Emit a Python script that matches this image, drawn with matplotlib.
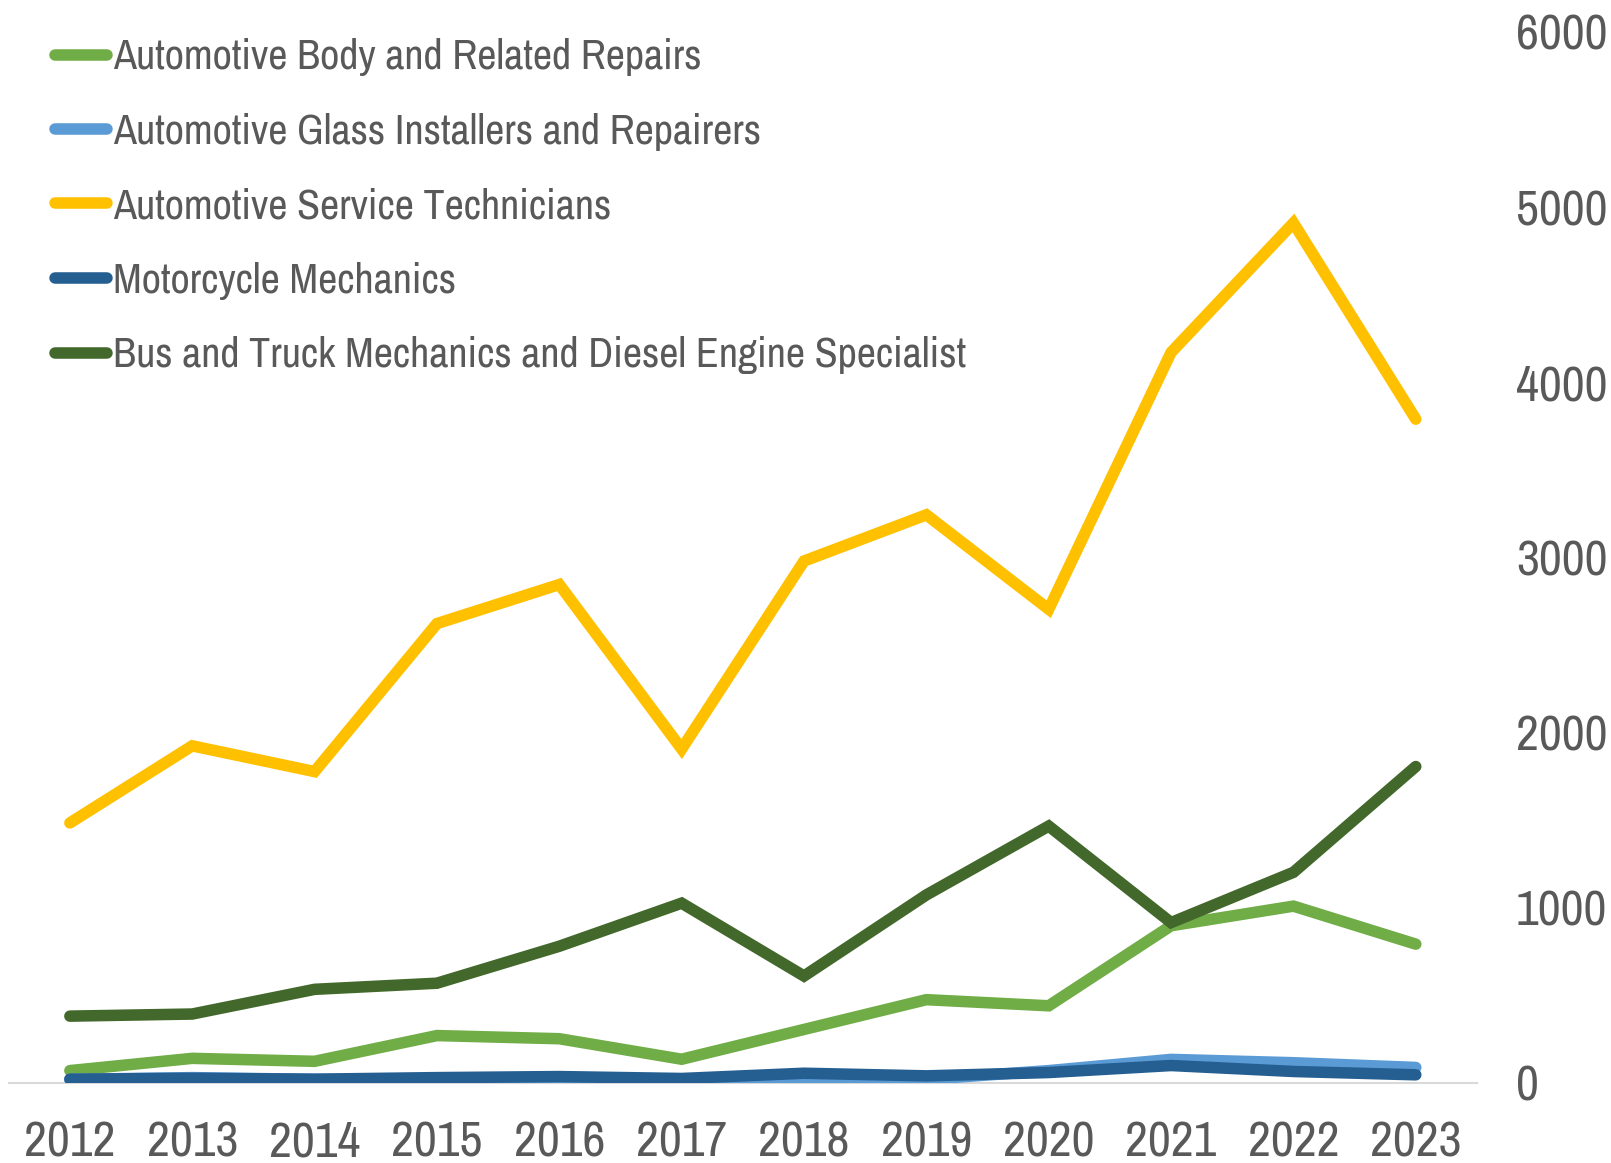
import matplotlib
matplotlib.use("Agg")
import matplotlib.pyplot as plt

plt.rcParams['font.family'] = ['Archivo Narrow', 'DejaVu Sans']

years = ["2012", "2013", "2014", "2015", "2016", "2017", "2018", "2019", "2020", "2021", "2022", "2023"]
body = [70, 140, 123, 270, 252, 135, 305, 475, 440, 897, 1009, 792]
glass = [20, 30, 20, 20, 20, 20, 15, 20, 70, 134, 115, 88]
service = [1484, 1924, 1777, 2622, 2845, 1906, 2979, 3243, 2704, 4170, 4909, 3789]
moto = [21, 26, 21, 30, 36, 25, 55, 40, 59, 99, 65, 46]
bus = [381, 393, 534, 569, 780, 1026, 610, 1073, 1466, 915, 1202, 1806]

labels = ["Automotive Body and Related Repairs",
          "Automotive Glass Installers and Repairers",
          "Automotive Service Technicians",
          "Motorcycle Mechanics",
          "Bus and Truck Mechanics and Diesel Engine Specialist"]
colors = ["#70AD47", "#5B9BD5", "#FFC000", "#255E91", "#43682B"]
values = [body, glass, service, moto, bus]

W, H = 1611, 1163
fig = plt.figure(figsize=(W / 100, H / 100), dpi=100)
ax = fig.add_axes([0.0054, 0.0689, 0.9114, 0.9037])
x = range(len(years))
LW = 8.3
for label, vals, color in zip(labels, values, colors):
    ax.plot(x, vals, color=color, lw=LW, solid_capstyle='round', solid_joinstyle='miter', label=label)

ax.set_xlim(-0.5, len(years) - 0.5)
ax.set_ylim(0, 6000)
ax.set_xticks(list(x))
ax.set_xticklabels(years)
ax.set_yticks(range(0, 6001, 1000))
ax.yaxis.tick_right()
for s in ['top', 'left', 'right']:
    ax.spines[s].set_visible(False)
ax.spines['bottom'].set_color('#D9D9D9')
ax.spines['bottom'].set_linewidth(1.5)
ax.spines['bottom'].set_zorder(0)
ax.tick_params(axis='both', length=0, labelsize=36, labelcolor='#595959')
ax.tick_params(axis='x', pad=27)
ax.tick_params(axis='y', pad=28)
for t in ax.get_yticklabels():
    t.set_horizontalalignment('left')

# legend (manual, in figure pixel positions)
row0, step = 54.5, 74.5
for i, (label, color) in enumerate(zip(labels, colors)):
    yc = 1 - (row0 + step * i) / H
    fig.add_artist(plt.Line2D([55 / W, 107 / W], [yc, yc], color=color, lw=LW,
                              solid_capstyle='round', transform=fig.transFigure))
    fig.text(113 / W, yc - 15 / H, label, fontsize=30.3, color='#595959', va='baseline', ha='left')

fig.savefig("out.png", dpi=100)
